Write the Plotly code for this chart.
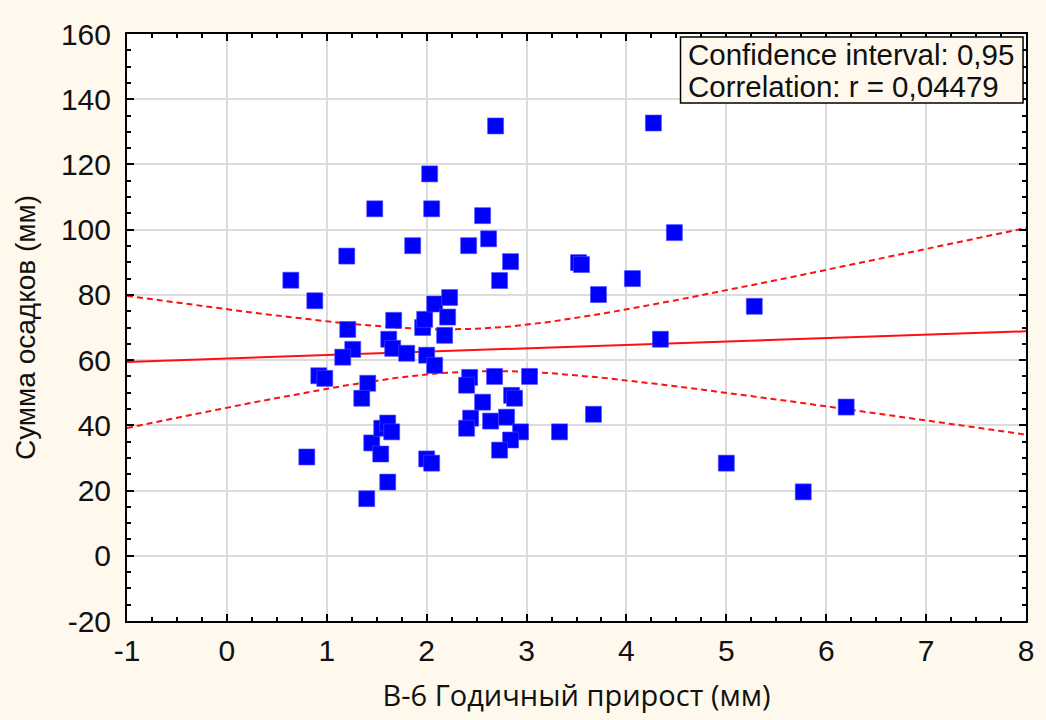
import numpy as np
import plotly.graph_objects as go

# Годичный прирост (мм) and Сумма осадков (мм)
growth = [0.64, 0.88, 0.80, 0.92, 0.98, 1.20, 1.21, 1.26, 1.16, 1.48,
          1.41, 1.35, 1.40, 1.45, 1.54, 1.55, 1.61, 1.65, 1.61, 1.62,
          1.66, 1.67, 1.80, 1.86, 1.96, 1.98, 2.00, 2.08, 2.08, 2.23,
          2.21, 2.18, 2.00, 2.05, 2.03, 2.05, 2.43, 2.40, 2.68, 3.03,
          2.56, 2.85, 2.88, 2.44, 2.40, 2.64, 2.80, 2.94, 2.84, 2.73,
          2.69, 2.56, 2.62, 2.42, 2.84, 2.73, 4.27, 4.48, 3.52, 3.55,
          4.06, 3.72, 5.28, 4.34, 3.67, 3.33, 6.20, 5.00, 5.77]
precip = [84.5, 78.2, 30.3, 55.2, 54.4, 91.9, 69.4, 63.3, 60.9, 106.4,
          52.9, 48.3, 17.5, 34.6, 31.2, 39.1, 40.7, 38.0, 22.6, 66.4,
          63.6, 72.2, 62.1, 95.1, 70.0, 72.5, 61.5, 58.4, 77.2, 79.2,
          73.2, 67.6, 29.7, 28.4, 117.1, 106.4, 54.7, 52.3, 55.0, 55.0,
          47.1, 49.2, 48.3, 42.2, 39.1, 41.3, 42.5, 38.0, 35.5, 32.4,
          131.8, 104.3, 97.2, 95.1, 90.2, 84.4, 132.7, 99.1, 89.9, 89.3,
          85.0, 80.1, 76.5, 66.4, 43.4, 38.0, 45.6, 28.4, 19.6]

x_ticks = [-1, 0, 1, 2, 3, 4, 5, 6, 7, 8]
y_ticks = [-20, 0, 20, 40, 60, 80, 100, 120, 140, 160]
box_lines = ["Confidence interval: 0,95", "Correlation: r = 0,04479"]
x_title = "B-6 Годичный прирост (мм)"
y_title = "Сумма осадков (мм)"

# linear fit and 95% confidence band computed from the data
x = np.array(growth)
y = np.array(precip)
n = len(x)
slope, intercept = np.polyfit(x, y, 1)
resid = y - (intercept + slope * x)
s = np.sqrt(np.sum(resid ** 2) / (n - 2))
sxx = np.sum((x - x.mean()) ** 2)
t_val = 1.996
xs = np.linspace(x_ticks[0], x_ticks[-1], 200)
fit = intercept + slope * xs
half = t_val * s * np.sqrt(1.0 / n + (xs - x.mean()) ** 2 / sxx)

BG = "#FFF8EC"
RED = "#FF1010"
fig = go.Figure()
fig.add_trace(go.Scatter(x=xs, y=fit, mode="lines",
                         line=dict(color=RED, width=2), hoverinfo="skip"))
fig.add_trace(go.Scatter(x=xs, y=fit + half, mode="lines",
                         line=dict(color=RED, width=2, dash="6px,4px"), hoverinfo="skip"))
fig.add_trace(go.Scatter(x=xs, y=fit - half, mode="lines",
                         line=dict(color=RED, width=2, dash="6px,4px"), hoverinfo="skip"))
fig.add_trace(go.Scatter(x=growth, y=precip, mode="markers",
                         marker=dict(symbol="square", size=16, color="#0000FF",
                                     line=dict(width=0.6, color="#4a4aff"))))

axis_common = dict(
    showline=True, linecolor="#000", linewidth=2, mirror="ticks",
    ticks="inside", ticklen=7, tickwidth=1.5, tickcolor="#000",
    showgrid=True, gridcolor="#DCDCDC", gridwidth=2, zeroline=False,
    tickfont=dict(family="Liberation Sans, Arial", size=30, color="#111"),
)
fig.update_layout(
    width=1046, height=720,
    margin=dict(l=127, r=16, t=34, b=99),
    paper_bgcolor=BG, plot_bgcolor="#FFFFFF",
    showlegend=False,
    xaxis=dict(range=[-1, 8], tickvals=x_ticks, ticktext=[str(v) for v in x_ticks],
               ticklabelstandoff=2,
               minor=dict(ticks="inside", ticklen=4, tickcolor="#000", dtick=0.25, showgrid=False),
               title=dict(text=x_title, standoff=20,
                          font=dict(family="Open Sans, Noto Sans", size=29, color="#111")),
               **axis_common),
    yaxis=dict(range=[-20, 160], tickvals=y_ticks, ticktext=[str(v) for v in y_ticks],
               ticklabelstandoff=8,
               minor=dict(ticks="inside", ticklen=4, tickcolor="#000", dtick=5, showgrid=False),
               title=dict(text=y_title, standoff=17,
                          font=dict(family="Liberation Sans, Arial", size=28, color="#111")),
               **axis_common),
    shapes=[dict(type="rect", xref="paper", yref="paper",
                 x0=0.6157, x1=0.9967, y0=0.8825, y1=0.9949,
                 fillcolor=BG, line=dict(color="#000", width=1.5), layer="above")],
    annotations=[
        dict(text=box_lines[0], xref="paper", yref="paper", x=0.6213, y=0.9659,
             xanchor="left", yanchor="middle", showarrow=False,
             font=dict(family="Liberation Sans, Arial", size=29.5, color="#111")),
        dict(text=box_lines[1], xref="paper", yref="paper", x=0.6213, y=0.9114,
             xanchor="left", yanchor="middle", showarrow=False,
             font=dict(family="Liberation Sans, Arial", size=29.5, color="#111")),
    ],
)
fig.write_html("out.html")
